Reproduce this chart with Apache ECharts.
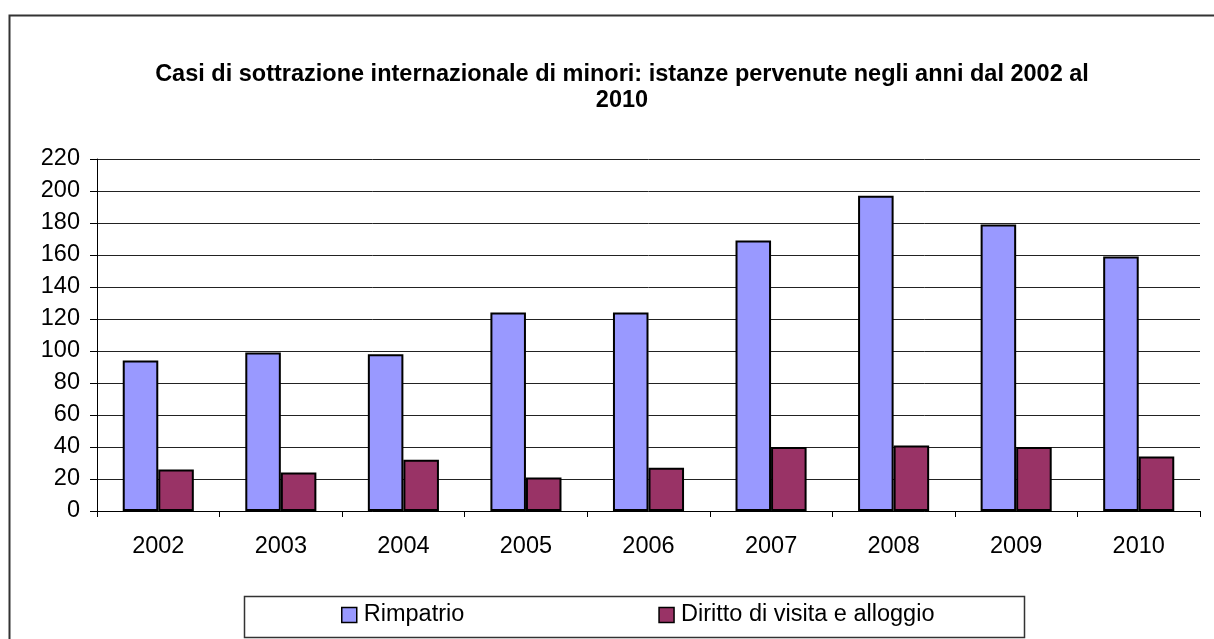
<!DOCTYPE html>
<html>
<head>
<meta charset="utf-8">
<script src="https://cdn.jsdelivr.net/npm/echarts@6/dist/echarts.min.js"></script>
<style>
html,body{margin:0;padding:0;background:#fff;}
#chart{width:1214px;height:639px;}
</style>
</head>
<body>
<div id="chart"></div>
<script>
var categories = ['2002','2003','2004','2005','2006','2007','2008','2009','2010'];
var rimpatrio = [94, 99, 98, 124, 124, 169, 197, 179, 159];
var dirittoVisita = [26, 24, 32, 21, 27, 40, 41, 40, 34];
var seriesNames = ['Rimpatrio', 'Diritto di visita e alloggio'];
var titleText = 'Casi di sottrazione internazionale di minori: istanze pervenute negli anni dal 2002 al\n2010';

var FONT = '"Liberation Sans", Arial, sans-serif';
var FS = 23.5;
var chart = echarts.init(document.getElementById('chart'), null, {renderer: 'canvas'});
chart.setOption({
  animation: false,
  backgroundColor: '#ffffff',
  textStyle: {fontFamily: FONT},
  title: {
    text: titleText,
    left: 617,
    textAlign: 'center',
    top: 57,
    textStyle: {fontFamily: FONT, fontSize: 23.5, fontWeight: 'bold', color: '#000', lineHeight: 26, align: 'center'}
  },
  graphic: [
    {type: 'rect', left: 7, top: 13, shape: {x: 0, y: 0, width: 1240, height: 660},
     style: {fill: 'none', stroke: '#333', lineWidth: 2}, z: -1},
    {type: 'rect', left: 242, top: 594, shape: {x: 0, y: 0, width: 780, height: 41},
     style: {fill: 'none', stroke: '#333', lineWidth: 1.5}, z: 5}
  ],
  legend: {
    data: seriesNames,
    left: 341,
    top: 603,
    padding: 0,
    itemWidth: 15,
    itemHeight: 15,
    itemGap: 194,
    icon: 'rect',
    textStyle: {fontFamily: FONT, fontSize: FS, color: '#000', padding: [0, 0, 0, 2]},
    itemStyle: {borderColor: '#000', borderWidth: 1.5}
  },
  grid: {left: 97, right: 14, top: 159, bottom: 128, containLabel: false},
  xAxis: {
    type: 'category',
    data: categories,
    boundaryGap: true,
    axisLine: {lineStyle: {color: '#000', width: 1}},
    axisTick: {show: true, length: 6, lineStyle: {color: '#000'}},
    axisLabel: {fontFamily: FONT, fontSize: FS, color: '#000', margin: 24},
    splitLine: {show: false}
  },
  yAxis: {
    type: 'value',
    min: 0,
    max: 220,
    interval: 20,
    axisLine: {show: true, lineStyle: {color: '#000', width: 1}},
    axisTick: {show: true, length: 7, lineStyle: {color: '#000'}},
    axisLabel: {fontFamily: FONT, fontSize: FS, color: '#000', margin: 17},
    splitLine: {show: true, lineStyle: {color: '#222', width: 1}}
  },
  series: [
    {name: seriesNames[0], type: 'bar', data: rimpatrio, barGap: '0%', barCategoryGap: '42%',
     itemStyle: {color: '#9999FF', borderColor: '#000', borderWidth: 2}},
    {name: seriesNames[1], type: 'bar', data: dirittoVisita, barGap: '0%', barCategoryGap: '42%',
     itemStyle: {color: '#993366', borderColor: '#000', borderWidth: 2}}
  ]
});
</script>
</body>
</html>
